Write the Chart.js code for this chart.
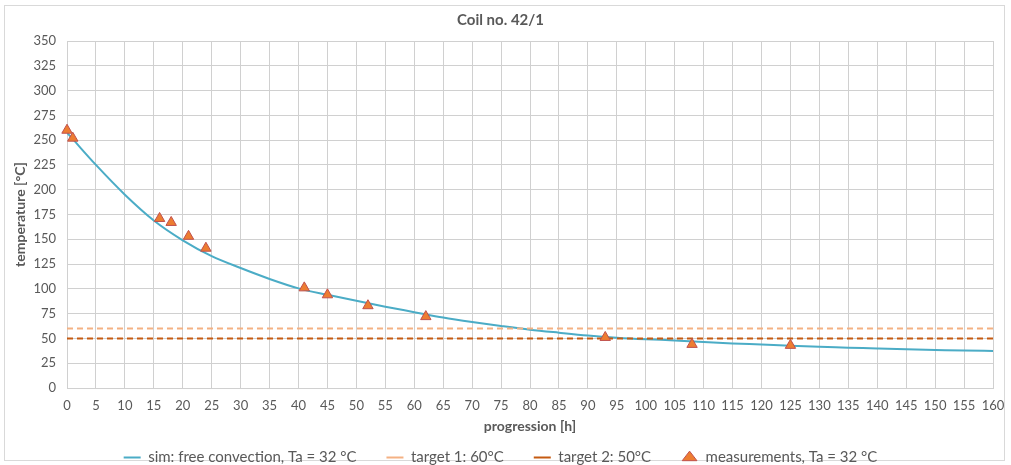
<!DOCTYPE html>
<html>
<head>
<meta charset="utf-8">
<script src="https://cdn.jsdelivr.net/npm/chart.js@4.4.1/dist/chart.umd.min.js"></script>
<style>
html, body { margin: 0; padding: 0; background: #fff; }
#frame { position: absolute; left: 4px; top: 5px; width: 999px; height: 454px; border: 1px solid #d9d9d9; }
#wrap { position: absolute; left: 0; top: 0; width: 1011px; height: 465px; }
</style>
</head>
<body>
<div id="frame"></div>
<div id="wrap"><canvas id="coilChart" width="1011" height="465"></canvas></div>
<script>
// simulation: free convection
const simX = [0, 1, 5, 10, 15, 20, 25, 30, 35, 40, 45, 50, 55, 60, 65, 70, 75, 80,
  85, 90, 95, 100, 105, 110, 115, 120, 125, 130, 135, 140, 145, 150, 155, 160];
const simY = [257.5, 251, 225, 195, 169, 149, 133, 121, 110, 100.5, 94, 88, 82, 76.5, 71, 66.5, 62.5, 58.8,
  55.8, 53, 50.8, 49.2, 48, 46.5, 45, 43.8, 42.5, 41.5, 40.7, 39.8, 39, 38.4, 37.8, 37.3];

// measurements
const measX = [0, 1, 16, 18, 21, 24, 41, 45, 52, 62, 93, 108, 125];
const measY = [260, 252, 171, 167, 153, 141, 101, 94, 83, 72, 51, 44, 43];

// targets
const targetX = [0, 160];
const target1Y = [60, 60];
const target2Y = [50, 50];

const labels = ['sim: free convection, Ta = 32 °C', 'target 1: 60°C', 'target 2: 50°C', 'measurements, Ta = 32 °C'];

const txt = '#595959';
const gridCol = '#d0d0d0';
const fontFam = 'Lato, "Open Sans", sans-serif';

function pts(xs, ys) {
  return xs.map((x, i) => ({ x: x, y: ys[i] }));
}

const ctx = document.getElementById('coilChart').getContext('2d');
const coilChart = new Chart(ctx, {
  type: 'scatter',
  data: {
    datasets: [{
      label: labels[0],
      data: pts(simX, simY),
      showLine: true,
      borderColor: '#4bacc6',
      backgroundColor: '#4bacc6',
      borderWidth: 2,
      pointRadius: 0,
      pointStyle: 'line',
      cubicInterpolationMode: 'monotone',
      order: 3
    }, {
      label: labels[1],
      data: pts(targetX, target1Y),
      showLine: true,
      borderColor: '#f4b183',
      backgroundColor: '#f4b183',
      borderWidth: 2,
      borderDash: [6, 4],
      pointRadius: 0,
      pointStyle: 'line',
      order: 2
    }, {
      label: labels[2],
      data: pts(targetX, target2Y),
      showLine: true,
      borderColor: '#c55a11',
      backgroundColor: '#c55a11',
      borderWidth: 2,
      borderDash: [6, 4],
      pointRadius: 0,
      pointStyle: 'line',
      order: 1
    }, {
      label: labels[3],
      data: pts(measX, measY),
      showLine: false,
      pointStyle: 'triangle',
      pointRadius: 6,
      backgroundColor: '#ed7d31',
      borderColor: '#c0504d',
      borderWidth: 1,
      clip: false,
      order: 0
    }]
  },
  options: {
    responsive: false,
    animation: false,
    layout: { padding: { left: 8, right: 18, top: 0, bottom: -10 } },
    plugins: {
      tooltip: { enabled: false },
      title: {
        display: true,
        text: 'Coil no. 42/1',
        color: txt,
        font: { family: fontFam, size: 15, weight: 'bold' },
        padding: { top: 11, bottom: 12 }
      },
      legend: {
        position: 'bottom',
        labels: {
          color: txt,
          font: { family: fontFam, size: 15 },
          usePointStyle: true,
          pointStyleWidth: 17,
          boxHeight: 9,
          padding: 30,
          sort: (a, b) => a.datasetIndex - b.datasetIndex
        }
      }
    },
    scales: {
      x: {
        type: 'linear',
        min: 0,
        max: 160,
        ticks: { stepSize: 5, color: txt, font: { family: fontFam, size: 13 }, padding: 10, maxRotation: 0, autoSkip: false },
        grid: { color: gridCol, drawTicks: false },
        border: { color: gridCol },
        title: {
          display: true,
          text: 'progression [h]',
          color: txt,
          font: { family: fontFam, size: 14, weight: 'bold' },
          padding: { top: 0, bottom: -15 }
        },
        afterFit: function(s) {
          s.height = 32;
          s.paddingLeft = 0;
          s.paddingRight = 0;
        }
      },
      y: {
        min: 0,
        max: 350,
        ticks: { stepSize: 25, color: txt, font: { family: fontFam, size: 13 }, padding: 11 },
        grid: { color: gridCol, drawTicks: false },
        border: { color: gridCol },
        title: {
          display: true,
          text: 'temperature [°C]',
          color: txt,
          font: { family: fontFam, size: 14, weight: 'bold' },
          padding: { top: 4, bottom: 4 }
        },
        afterFit: function(s) { s.width = 59; }
      }
    }
  }
});
</script>
</body>
</html>
